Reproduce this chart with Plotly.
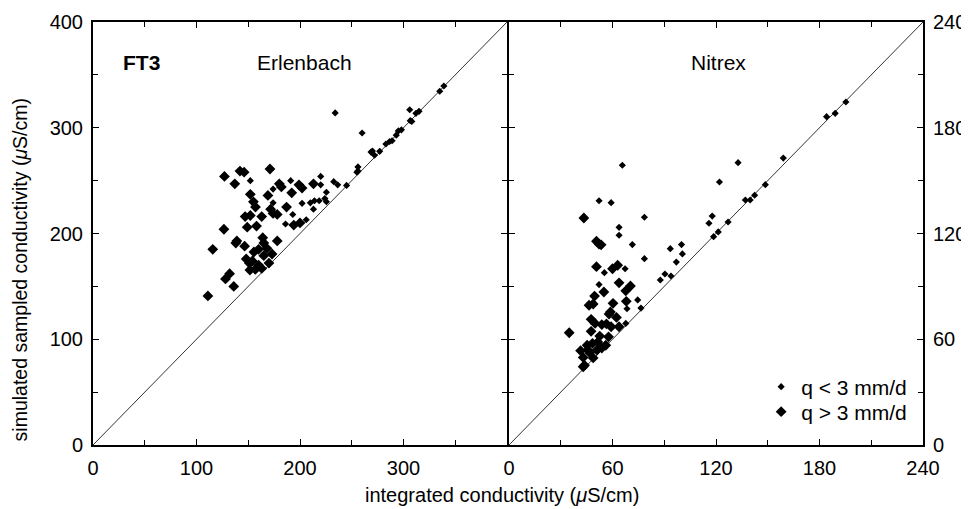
import plotly.graph_objects as go

# ---------------- data ----------------
# Erlenbach, q < 3 mm/d (small diamonds)
erl_low_x = [152, 191, 220, 220, 225.5, 232.6, 236.4, 234, 174, 174, 202, 210, 214, 218.5, 224, 225.5,
             213, 193, 186, 206, 260, 245, 256, 256, 255, 270, 272, 277, 268.6, 283, 286.6, 289,
             293, 295, 298, 306, 306.5, 308, 312, 315, 335, 339]
erl_low_y = [250, 250, 254, 246, 239, 249, 246, 314, 242, 229, 228.5, 229, 231, 231, 233, 230,
             223, 218, 209, 213, 295, 245.5, 263, 259, 258, 278, 274, 277.7, 277, 284.6, 287, 287.7,
             293, 297, 298, 317, 306.7, 306, 313.6, 315.5, 334.5, 339.5]
# Erlenbach, q > 3 mm/d (large diamonds)
erl_high_x = [127, 142, 146, 171, 137, 180, 182, 199, 202, 213, 152, 169, 192, 155, 157, 171.6, 187,
              147, 152, 158, 163, 174, 178, 149, 194, 200, 126.5, 139, 138, 146.5, 164, 165, 178,
              115.7, 155.5, 165, 173, 148, 151, 154, 151.6, 156.8, 163, 128, 132, 136, 111,
              160, 168, 170, 160]
erl_high_y = [254, 259, 258, 261, 247, 247, 244, 246, 243, 247, 237, 236, 238.5, 230, 225, 223, 225,
              216, 217, 207, 216, 219, 218, 206, 208, 210, 204, 193, 191, 188, 196, 191, 193,
              185, 182.5, 179, 180.6, 176, 172, 174, 165.5, 166, 167, 157, 162, 150, 141,
              185, 186, 172, 170]

# Nitrex, q < 3 mm/d (small diamonds)
nit_low_x = [65.7, 52.2, 59.2, 78.5, 63.8, 63.8, 71.5, 78.5, 93.5, 100, 100.5, 97, 90.4, 87.7, 93.9,
             55.3, 67.3, 52.2, 74.6, 76.5, 68.4, 67.7, 132.8, 122, 159, 184.1, 189.1, 195.3,
             117.8, 115.9, 127, 121.3, 118.6, 137, 139.8, 142.4, 148.6]
nit_low_y = [158.7, 138.6, 137.5, 129.2, 123.5, 119, 113.7, 105.7, 111.4, 113.7, 108.4, 103.8, 97, 93.6, 95.9,
             97.8, 100, 91, 82.3, 77.7, 77.3, 69, 160.2, 149.2, 162.8, 186.3, 188.2, 194.6,
             129.9, 125.8, 126.5, 120.9, 118.2, 139, 139, 141.7, 147.7]
# Nitrex, q > 3 mm/d (large diamonds)
nit_high_x = [43.4, 50.7, 52.2, 53.4, 50.7, 60, 63, 63.8, 70.4, 67.7, 55, 49.6, 48.8, 46.4, 68, 60.3,
              58.8, 58, 62.3, 47.6, 49.9, 53.8, 56.5, 59.2, 63.8, 34.9, 47.6, 52.6, 57.7, 48.4,
              45.3, 51.5, 56.1, 41.5, 45.7, 46.8, 51, 53.8, 43, 43.8, 43, 48.8]
nit_high_y = [128.8, 115.6, 114, 113.6, 101.2, 100, 102, 92, 90.2, 87.5, 86.8, 84.5, 80, 79.3, 81.5, 80.4,
              75.5, 74.3, 72.4, 71.3, 69, 68.3, 68.7, 67.1, 67.1, 63.7, 64.5, 61.8, 61.4, 57.7,
              56.6, 58.4, 56.6, 53.5, 53.9, 52.4, 53.9, 55, 49.7, 45.2, 44.4, 49.4]

erl_range = [0, 400]
nit_range = [0, 240]
erl_ticks = [0, 100, 200, 300]
erl_yticks = [0, 100, 200, 300, 400]
nit_ticks = [0, 60, 120, 180, 240]

label_low = "q &lt; 3 mm/d"
label_high = "q &gt; 3 mm/d"

FONT = "Liberation Sans, Arial, sans-serif"
SMALL = 5.5
LARGE = 8.3
LW = 2
PW = 830  # plot width in px
half = LW / 2 / PW

fig = go.Figure()

# 1:1 lines
fig.add_trace(go.Scatter(x=erl_range, y=erl_range, mode="lines", line=dict(color="#333", width=1),
                         showlegend=False, hoverinfo="skip", xaxis="x", yaxis="y"))
fig.add_trace(go.Scatter(x=nit_range, y=nit_range, mode="lines", line=dict(color="#333", width=1),
                         showlegend=False, hoverinfo="skip", xaxis="x2", yaxis="y2"))

fig.add_trace(go.Scatter(x=erl_low_x, y=erl_low_y, mode="markers", xaxis="x", yaxis="y",
                         marker=dict(symbol="diamond", size=SMALL, color="black"),
                         showlegend=False, name=label_low))
fig.add_trace(go.Scatter(x=erl_high_x, y=erl_high_y, mode="markers", xaxis="x", yaxis="y",
                         marker=dict(symbol="diamond", size=LARGE, color="black"),
                         showlegend=False, name=label_high))
fig.add_trace(go.Scatter(x=nit_low_x, y=nit_low_y, mode="markers", xaxis="x2", yaxis="y2",
                         marker=dict(symbol="diamond", size=SMALL, color="black"),
                         showlegend=True, name=label_low, legend="legend"))
fig.add_trace(go.Scatter(x=nit_high_x, y=nit_high_y, mode="markers", xaxis="x2", yaxis="y2",
                         marker=dict(symbol="diamond", size=LARGE, color="black"),
                         showlegend=True, name=label_high, legend="legend2"))

common = dict(showline=True, linecolor="black", linewidth=LW, mirror="ticks", ticks="inside",
              ticklen=6, tickwidth=1, tickcolor="black", showgrid=False, zeroline=False,
              ticklabelstandoff=4, automargin=False,
              tickfont=dict(family=FONT, size=20, color="black"))

legend_common = dict(xanchor="left", yanchor="middle", bgcolor="rgba(0,0,0,0)",
                     font=dict(family=FONT, size=21, color="black"), itemwidth=30)

fig.update_layout(
    width=961, height=501,
    margin=dict(l=85, r=46, t=14, b=64, autoexpand=False),
    paper_bgcolor="white", plot_bgcolor="white",
    font=dict(family=FONT, size=20, color="black"),
    xaxis=dict(domain=[0, 0.5 - half], range=erl_range, tickvals=erl_ticks, anchor="y",
               minor=dict(dtick=50, tick0=0, ticks="inside", ticklen=5, tickcolor="black"), **common),
    yaxis=dict(domain=[0, 1], range=erl_range, tickvals=erl_yticks, anchor="x",
               minor=dict(dtick=50, tick0=0, ticks="inside", ticklen=5, tickcolor="black"), **common),
    xaxis2=dict(domain=[0.5 + half, 1], range=nit_range, tickvals=nit_ticks, anchor="y2",
                minor=dict(dtick=30, tick0=0, ticks="inside", ticklen=5, tickcolor="black"), **common),
    yaxis2=dict(domain=[0, 1], range=nit_range, tickvals=nit_ticks, anchor="x2", side="right",
                minor=dict(dtick=30, tick0=0, ticks="inside", ticklen=5, tickcolor="black"), **common),
    legend=dict(x=0.805, y=0.137, **legend_common),
    legend2=dict(x=0.805, y=0.078, **legend_common),
    annotations=[
        dict(text="<b>FT3</b>", xref="x domain", yref="y domain", x=0.116, y=0.905,
             xanchor="center", yanchor="middle", showarrow=False, font=dict(family=FONT, size=21)),
        dict(text="Erlenbach", xref="x domain", yref="y domain", x=0.512, y=0.905,
             xanchor="center", yanchor="middle", showarrow=False, font=dict(family=FONT, size=21)),
        dict(text="Nitrex", xref="x2 domain", yref="y2 domain", x=0.507, y=0.905,
             xanchor="center", yanchor="middle", showarrow=False, font=dict(family=FONT, size=21)),
        dict(text="integrated conductivity (<i>μ</i>S/cm)", xref="paper", yref="paper",
             x=0.493, y=-0.118, xanchor="center", yanchor="middle", showarrow=False,
             font=dict(family=FONT, size=20)),
        dict(text="simulated sampled conductivity (<i>μ</i>S/cm)", xref="paper", yref="paper",
             x=-0.088, xanchor="center", y=0.415, yanchor="middle", textangle=-90, showarrow=False,
             font=dict(family=FONT, size=19.5)),
    ],
)

fig.write_html("out.html")
